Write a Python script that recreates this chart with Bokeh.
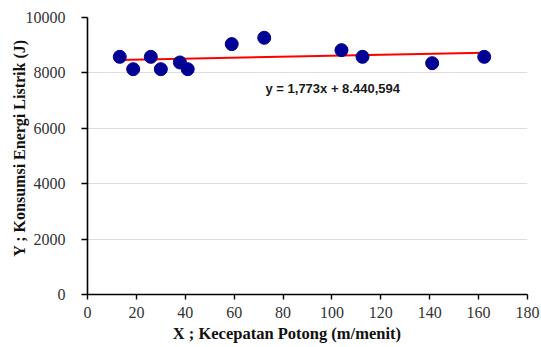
from bokeh.plotting import figure
from bokeh.models import Label, FixedTicker, Range1d
from bokeh.embed import file_html
from bokeh.resources import INLINE

# data
speed = [13.2, 18.7, 25.9, 30.0, 37.8, 41.0, 59.0, 72.3, 103.9, 112.5, 141.0, 162.3]
energy = [8580, 8134, 8580, 8134, 8377, 8134, 9040, 9268, 8822, 8580, 8351, 8580]
slope = 1.773
intercept = 8440.594
equation = "y = 1,773x + 8.440,594"
x_ticks = [0, 20, 40, 60, 80, 100, 120, 140, 160, 180]
y_ticks = [0, 2000, 4000, 6000, 8000, 10000]
x_title = "X ; Kecepatan Potong (m/menit)"
y_title = "Y ; Konsumsi Energi Listrik (J)"

NB = "\u00a0"
W, H = 541, 347
BL, BR, BT = 87, 14, 17
FW = W - BL - BR
FH = 277
BB = H - BT - FH
X0, X1, Y0, Y1 = 0, 180, 0, 10000

p = figure(width=W, height=H, output_backend="svg", toolbar_location=None,
           x_range=Range1d(X0, X1), y_range=Range1d(Y0, Y1),
           min_border_left=BL, min_border_right=BR, min_border_top=BT, min_border_bottom=BB)
p.outline_line_color = None
p.background_fill_color = "white"
p.xgrid.visible = False
p.ygrid.grid_line_color = "#dcdce8"
p.ygrid.grid_line_width = 1.2

for ax, ticks, tout, stand, title, lstand, lsize in (
        (p.xaxis, x_ticks, 5, 7, x_title + NB * 10, 3, "16.5px"),
        (p.yaxis, y_ticks, 6, 16, NB * 4 + y_title, -5, "16px")):
    ax.ticker = FixedTicker(ticks=ticks)
    ax.major_tick_in = 0
    ax.major_tick_out = tout
    ax.minor_tick_line_color = None
    ax.axis_line_color = "black"
    ax.axis_line_width = 1.6
    ax.major_tick_line_color = "black"
    ax.major_tick_line_width = 1.4
    ax.major_label_text_font = "Liberation Serif"
    ax.major_label_text_font_size = "16px"
    ax.major_label_text_color = "#333333"
    ax.major_label_standoff = stand
    ax.axis_label = title
    ax.axis_label_text_font = "Liberation Serif"
    ax.axis_label_text_font_style = "bold"
    ax.axis_label_text_font_size = lsize
    ax.axis_label_text_color = "#111111"
    ax.axis_label_standoff = lstand

# trend line
xs = [min(speed), max(speed)]
p.line(xs, [slope * v + intercept for v in xs], line_color="#ff0000", line_width=2)

# points
p.scatter(speed, energy, size=13, fill_color="#000094", line_color="#000094")

def dx(fx):
    return X0 + (fx - BL) / FW * (X1 - X0)

def dy(fy):
    return Y0 + (BT + FH - fy) / FH * (Y1 - Y0)

p.add_layout(Label(x=dx(265), y=dy(87.7), text=equation, text_font="Liberation Sans",
                   text_font_style="bold", text_font_size="13px", text_color="#1a1a1a",
                   text_baseline="alphabetic"))

open("out.html", "w").write(file_html(p, INLINE))
